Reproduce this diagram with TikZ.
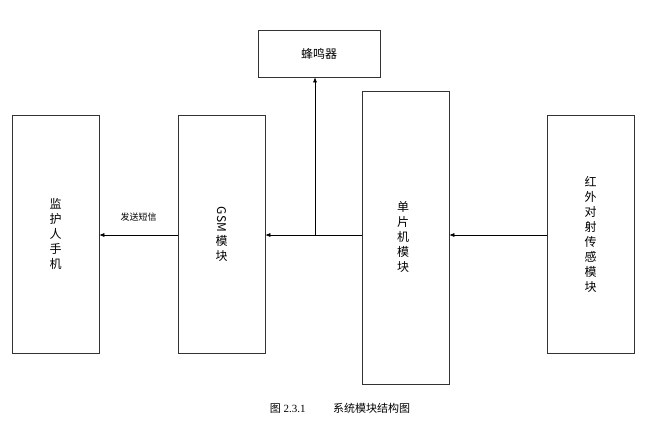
\documentclass[tikz,border=0pt]{standalone}
\usepackage{fontspec}
\setmainfont{Liberation Serif}
\newfontfamily\cjk{Noto Sans CJK SC}
\usetikzlibrary{arrows.meta}
\begin{document}
\begin{tikzpicture}[x=1pt,y=-1pt,
  box/.style={draw=black!80,line width=0.6pt,inner sep=0pt},
  lbl/.style={font=\cjk\fontsize{12}{15}\selectfont,align=center},
  conn/.style={line width=0.6pt,-{Latex[length=5pt,width=4pt]}}]
\useasboundingbox (0,0) rectangle (654,429);
\node[box,minimum width=122pt,minimum height=47pt] (bz) at (319,53.5) {};
\node[lbl] at (bz) {蜂鸣器};
\node[box,minimum width=87pt,minimum height=238pt] (ph) at (55.5,234) {};
\node[lbl] at (ph) {监\\护\\人\\手\\机};
\node[box,minimum width=87pt,minimum height=238pt] (gsm) at (221.5,234) {};
\node[lbl] at (gsm) {\rotatebox{-90}{GSM}\\[2pt]模\\块};
\node[box,minimum width=87pt,minimum height=293pt] (mcu) at (405.5,237.5) {};
\node[lbl] at (403,237) {单\\片\\机\\模\\块};
\node[box,minimum width=87pt,minimum height=238pt] (ir) at (590.5,234) {};
\node[lbl] at (590.5,234) {红\\外\\对\\射\\传\\感\\模\\块};
\draw[conn] (gsm.west |- 0,235) -- (ph.east |- 0,235) node[midway,above=10pt,font=\cjk\fontsize{9}{11}\selectfont] {发送短信};
\draw[conn] (mcu.west |- 0,235) -- (gsm.east |- 0,235);
\draw[conn] (ir.west |- 0,235) -- (mcu.east |- 0,235);
\coordinate (j) at (315,235);
\draw[conn] (j) -- (j |- bz.south);
\node (cap) at (340,408) {\fontsize{11}{13}\selectfont {\cjk 图} 2.3.1\hspace{2.5em}{\cjk 系统模块结构图}};
\end{tikzpicture}
\end{document}
